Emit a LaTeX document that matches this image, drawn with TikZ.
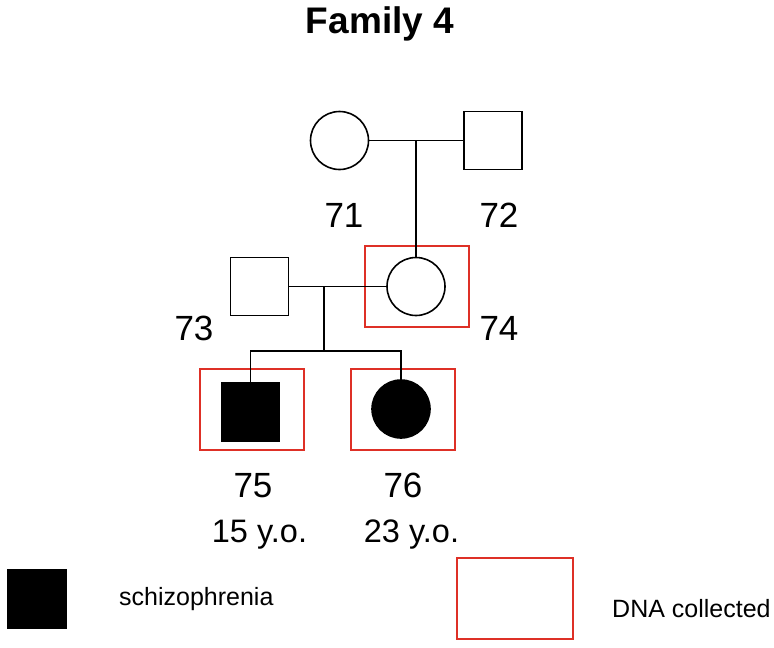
\documentclass[tikz,border=0pt]{standalone}
\usepackage{fontspec}
\setmainfont{Liberation Sans}
\usetikzlibrary{positioning}
\definecolor{dnared}{RGB}{222,48,38}

\begin{document}
\begin{tikzpicture}[x=1pt,y=-1pt,
  male/.style={draw,line width=1.6pt,minimum size=58pt,inner sep=0pt},
  female/.style={draw,circle,line width=1.6pt,minimum size=58pt,inner sep=0pt},
  ill/.style={fill=black},
  dna/.style={draw=dnared,line width=2pt,minimum width=104pt,minimum height=81.5pt,inner sep=0pt},
  pid/.style={anchor=base,inner sep=0pt,font=\fontsize{35}{42}\selectfont},
  age/.style={anchor=base,inner sep=0pt,font=\fontsize{32.5}{40}\selectfont},
  legend/.style={anchor=base west,inner sep=0pt,font=\fontsize{25}{30}\selectfont},
  link/.style={line width=1.6pt}]
  \useasboundingbox (0,0) rectangle (774,648);
  \node[anchor=base,inner sep=0pt,font=\bfseries\fontsize{37}{44}\selectfont] (title) at (380,33) {Family 4};

  \node[dna] (dna74) at (416.5,286.5) {};
  \node[dna] (dna75) at (252,409.5) {};
  \node[dna] (dna76) at (403,409.5) {};

  \node[female] (i71) at (339.5,140.5) {};
  \node[male] (i72) at (493,140.5) {};
  \node[male] (i73) at (259.5,286.5) {};
  \node[female] (i74) at (416,286.5) {};
  \node[male,ill] (i75) at (250.5,412) {};
  \node[female,ill] (i76) at (401,409) {};

  \coordinate (m1) at (416,140.5);
  \coordinate (m2) at (324,286.5);
  \coordinate (sib) at (324,351);
  \draw[link] (i71) -- (i72);
  \draw[link] (m1) -- (i74);
  \draw[link] (i73) -- (i74);
  \draw[link] (m2) -- (sib);
  \draw[link] (i75.north) |- (sib) -| (i76.north);

  \node[pid] (n71) at (344,227) {71};
  \node[pid] (n72) at (499,227) {72};
  \node[pid] (n73) at (194,340) {73};
  \node[pid] (n74) at (499,340) {74};
  \node[pid] (n75) at (253,497) {75};
  \node[pid] (n76) at (403,497) {76};
  \node[age] (a75) at (259.5,542) {15 y.o.};
  \node[age] (a76) at (411.5,542) {23 y.o.};

  \node[male,ill,minimum size=59pt] (keyill) at (37,599) {};
  \node[legend] (keyilltext) at (119,605) {schizophrenia};
  \node[dna,minimum width=116.5pt] (keydna) at (515,598.5) {};
  \node[legend] (keydnatext) at (612,617) {DNA collected};
\end{tikzpicture}
\end{document}
